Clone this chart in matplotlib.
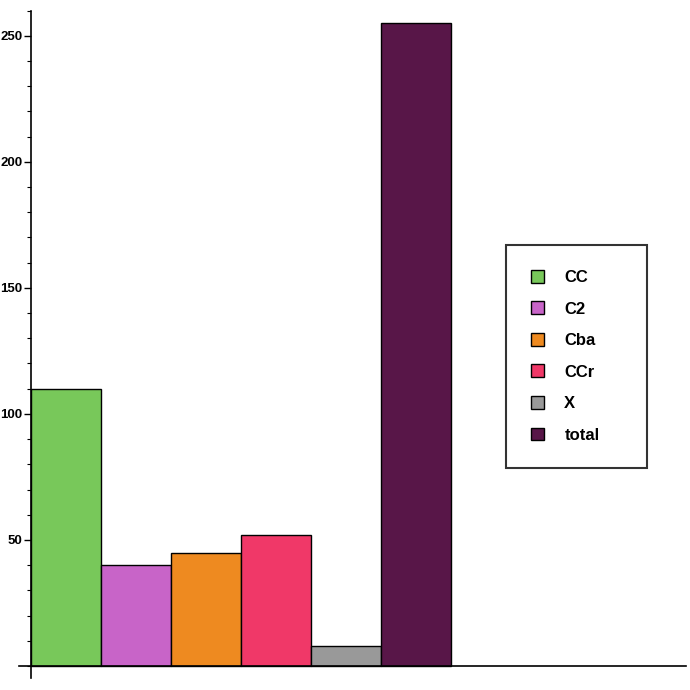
import numpy as np
import matplotlib.pyplot as plt
from matplotlib.ticker import MultipleLocator

# Data
labels = ["CC", "C2", "Cba", "CCr", "X", "total"]
values = [110, 40, 45, 52, 8, 255]
colors = ["#78C85A", "#C864C8", "#EE8A20", "#F03868", "#999999", "#581648"]

fig = plt.figure(figsize=(6.9, 6.9), dpi=100)
ax = fig.add_axes([0, 0, 1, 1])

# bars sit side by side, width 1
x = np.arange(len(values))
for xi, v, c, lab in zip(x, values, colors, labels):
    ax.bar(xi, v, width=1.0, align="edge", color=c, edgecolor="black",
           linewidth=1.0, label=lab, zorder=2)

# pixel -> data mapping of the reference (x0 at px 31, 70 px per bar; y0 at px 666)
ax.set_xlim((0 - 31) / 70, (690 - 31) / 70)
ax.set_ylim((666 - 690) / 2.521, (666 - 0) / 2.521)

for s in ["top", "right"]:
    ax.spines[s].set_visible(False)
ax.spines["left"].set_position(("data", 0))
ax.spines["bottom"].set_position(("data", 0))
ax.spines["left"].set_bounds(-4.8, 260)
ax.spines["bottom"].set_bounds(-0.17, 9.36)
for s in ["left", "bottom"]:
    ax.spines[s].set_linewidth(1.2)
    ax.spines[s].set_zorder(3)

ax.set_xticks([])
ax.yaxis.set_minor_locator(MultipleLocator(10))
ax.set_yticks([50, 100, 150, 200, 250])
ax.tick_params(axis="y", which="major", direction="out", length=5, width=1,
               pad=1, labelsize=9.5)
ax.tick_params(axis="y", which="minor", direction="out", length=3, width=0.8)
for t in ax.get_yticklabels():
    t.set_fontweight("bold")
    t.set_family(["Liberation Sans Narrow", "Liberation Sans", "DejaVu Sans"])

leg = ax.legend(loc="upper left",
                bbox_to_anchor=(506 / 690, 1 - 245 / 690, 141 / 690, 0.0),
                bbox_transform=fig.transFigure, mode="expand",
                prop={"family": ["Liberation Sans", "DejaVu Sans"],
                      "weight": "bold", "size": 12},
                frameon=True, fancybox=False, borderpad=1.5,
                handlelength=0.8, handleheight=0.8, handletextpad=1.2,
                labelspacing=0.98, borderaxespad=0)
leg.get_frame().set_edgecolor("black")
leg.get_frame().set_linewidth(1.5)

fig.savefig("out.png", dpi=100)
